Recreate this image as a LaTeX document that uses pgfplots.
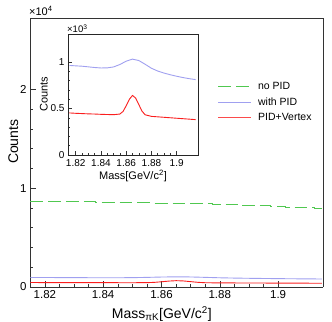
\documentclass[border=0pt]{standalone}
\usepackage{fontspec}
\setmainfont{Liberation Sans}
\usepackage{pgfplots}
\pgfplotsset{compat=1.18}

\definecolor{nopid}{RGB}{80,200,80}
\definecolor{withpid}{RGB}{160,160,240}
\definecolor{pidvtx}{RGB}{250,30,30}
\definecolor{frame}{RGB}{150,150,150}

% histograms (counts)
\pgfplotstableread{
m      n
1.8150 8660
1.8200 8650
1.8250 8640
1.8300 8620
1.8350 8610
1.8400 8590
1.8450 8580
1.8500 8560
1.8550 8530
1.8600 8500
1.8650 8480
1.8700 8450
1.8750 8420
1.8800 8380
1.8850 8330
1.8900 8270
1.8950 8210
1.9000 8150
1.9050 8090
1.9100 8030
1.9150 7990
}\nopidtab

\pgfplotstableread{
m      n
1.8150 962
1.8200 958
1.8250 954
1.8300 947
1.8350 940
1.8400 935
1.8450 936
1.8500 946
1.8550 972
1.8600 1008
1.8650 1030
1.8700 1015
1.8750 975
1.8800 932
1.8850 902
1.8900 880
1.8950 862
1.9000 846
1.9050 832
1.9100 820
1.9150 810
}\withpidtab

\pgfplotstableread{
m      n
1.8150 452
1.8200 448
1.8250 445
1.8300 442
1.8350 440
1.8400 437
1.8450 435
1.8500 433
1.8550 440
1.8575 468
1.8600 528
1.8625 598
1.8650 640
1.8675 612
1.8700 542
1.8725 472
1.8750 432
1.8800 415
1.8850 410
1.8900 405
1.8950 400
1.9000 395
1.9050 390
1.9100 385
1.9150 380
}\pidvtxtab

\begin{document}
\begin{tikzpicture}
\useasboundingbox (0bp,0bp) rectangle (332bp,322bp);

% main frame
\begin{axis}[
  name=main,
  at={(30bp,35bp)}, anchor=south west,
  scale only axis, width=293bp, height=269bp,
  xmin=1.8149, xmax=1.9154,
  ymin=0, ymax=27200,
  scaled x ticks=false, scaled y ticks=false,
  axis line style={frame, line width=1pt},
  separate axis lines,
  x axis line style={black!80, line width=0.6pt},
  y axis line style={black!80, line width=0.6pt},
  xtick={1.82,1.84,1.86,1.88,1.9},
  xticklabels={1.82,1.84,1.86,1.88,1.9},
  minor x tick num=3,
  ytick={0,10000,20000},
  yticklabels={0,1,2},
  minor y tick num=4,
  tick pos=left, tick align=inside,
  major tick length=6bp, minor tick length=3bp,
  tick style={black!80, line width=0.5pt},
  ticklabel style={font=\fontsize{11.5bp}{13bp}\selectfont},
  /pgf/number format/assume math mode=true,
  xlabel={Mass\textsubscript{πK}[GeV/c\textsuperscript{2}]},
  xlabel style={font=\fontsize{14bp}{16bp}\selectfont, at={(ticklabel cs:0.45)}, anchor=north, yshift=-1bp},
  ylabel={Counts},
  ylabel style={font=\fontsize{14bp}{16bp}\selectfont, at={(ticklabel cs:0.54)}, anchor=south, yshift=-5bp},
  legend style={draw=none, fill=none, at={(0.62,0.795)}, anchor=north west,
    xshift=3bp, yshift=-5bp,
    font=\fontsize{10.5bp}{12bp}\selectfont, row sep=2.5bp,
    cells={anchor=west},
    /tikz/every odd column/.append style={column sep=4bp}},
  legend image code/.code={\draw[#1] (0bp,0bp) -- (33bp,0bp);},
]
\addplot[nopid, line width=0.8pt, dash pattern=on 13bp off 5bp, const plot mark mid] table[x=m,y=n] {\nopidtab};
\addplot[withpid, line width=0.9pt] table[x=m,y=n] {\withpidtab};
\addplot[pidvtx, line width=0.9pt,
  legend image code/.code={\draw[draw=pidvtx!80!white, line width=1.3pt] (0bp,0bp) -- (33bp,0bp);}]
  table[x=m,y=n] {\pidvtxtab};
\legend{no PID, with PID, PID+Vertex}
\end{axis}
\node[anchor=south west, inner sep=0, font=\fontsize{11bp}{12bp}\selectfont] at ([xshift=-1bp, yshift=2bp]main.north west) {×10\textsuperscript{4}};

% inset
\begin{axis}[
  name=inset,
  at={(68bp,167bp)}, anchor=south west,
  scale only axis, width=130bp, height=121bp,
  xmin=1.8139, xmax=1.9169,
  ymin=0, ymax=1300,
  scaled x ticks=false, scaled y ticks=false,
  axis background/.style={fill=white},
  axis line style={black!85, line width=0.6pt},
  xtick={1.82,1.84,1.86,1.88,1.9},
  xticklabels={1.82,1.84,1.86,1.88,1.9},
  minor x tick num=3,
  ytick={0,500,1000},
  yticklabels={0,0.5,1},
  minor y tick num=4,
  tick pos=left, tick align=inside,
  major tick length=4bp, minor tick length=2bp,
  tick style={black!80, line width=0.5pt},
  ticklabel style={font=\fontsize{10bp}{11bp}\selectfont},
  xticklabel style={yshift=-1bp},
  /pgf/number format/assume math mode=true,
  xlabel={Mass[GeV/c\textsuperscript{2}]},
  xlabel style={font=\fontsize{11bp}{13bp}\selectfont, yshift=3bp},
  ylabel={Counts},
  ylabel style={font=\fontsize{11bp}{13bp}\selectfont, yshift=-4bp},
]
\addplot[withpid, line width=0.9pt] table[x=m,y=n] {\withpidtab};
\addplot[pidvtx, line width=0.9pt] table[x=m,y=n] {\pidvtxtab};
\end{axis}
\node[anchor=south west, inner sep=0, font=\fontsize{9.5bp}{10bp}\selectfont] at ([xshift=-1bp, yshift=1bp]inset.north west) {×10\textsuperscript{3}};
\end{tikzpicture}
\end{document}
